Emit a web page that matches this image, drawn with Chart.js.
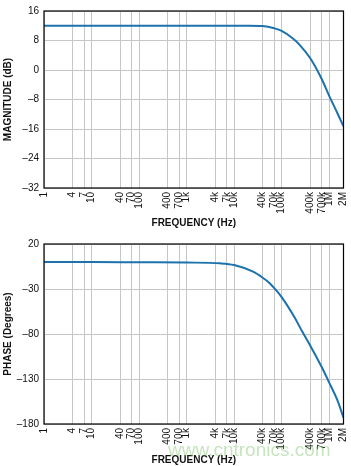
<!DOCTYPE html>
<html>
<head>
<meta charset="utf-8">
<script src="https://cdn.jsdelivr.net/npm/chart.js@4"></script>
<style>
  body { margin: 0; background: #fff; }
  #wrap { position: relative; width: 351px; height: 466px; }
  canvas { position: absolute; left: 0; }
  #mark { position: absolute; left: 168px; top: 439px; font: 19px "Liberation Sans", Arial, sans-serif;
          color: rgba(120, 190, 100, 0.42); pointer-events: none; white-space: nowrap; }
</style>
</head>
<body>
<div id="wrap">
  <canvas id="magChart" width="351" height="233" style="top:0"></canvas>
  <canvas id="phaseChart" width="351" height="233" style="top:233px"></canvas>
  <div id="mark">www.cntronics.com</div>
</div>
<script>
// x axis ticks (log)
const xTickValues = [1, 4, 7, 10, 40, 70, 100, 400, 700, 1e3, 4e3, 7e3, 1e4, 4e4, 7e4, 1e5, 4e5, 7e5, 1e6, 2e6];
const xTickLabels = ['1', '4', '7', '10', '40', '70', '100', '400', '700', '1k', '4k', '7k', '10k', '40k', '70k', '100k', '400k', '700k', '1M', '2M'];

// magnitude response
const magFreq = [1, 10, 100, 1000, 10000, 20000, 40000, 70000, 100000, 170000, 236000, 400000, 700000, 1000000, 1500000, 2000000];
const magDb   = [12, 12, 12, 12, 12, 12, 11.9, 11.3, 10.6, 8.6, 6.9, 3.2, -2.5, -7.0, -11.8, -15.3];

// phase response
const phaseFreq = [1, 10, 100, 1000, 5000, 10000, 25000, 40000, 56000, 70000, 100000, 189000, 269000, 400000, 700000, 1000000, 1500000, 2000000];
const phaseDeg  = [0, 0, -0.3, -0.6, -1.5, -3.4, -10.8, -17.5, -23.5, -29, -39, -62, -77, -93, -117, -134, -154, -173];

const FONT = '"Liberation Sans", Arial, sans-serif';
const LINE_COLOR = '#1b72ad';
const GRID_COLOR = '#c6c6c6';

const boxPlugin = {
    id: 'box',
    afterDraw(chart) {
        const a = chart.chartArea, ctx = chart.ctx;
        ctx.save();
        ctx.strokeStyle = '#000';
        ctx.lineWidth = 1.2;
        ctx.strokeRect(a.left, a.top, a.right - a.left, a.bottom - a.top);
        ctx.restore();
    }
};

function makeChart(id, xs, ys, yMin, yMax, yStep, yTitle, topPad, titlePad) {
    const pts = xs.map((x, i) => ({ x: x, y: ys[i] }));
    return new Chart(document.getElementById(id), {
        type: 'line',
        data: {
            datasets: [{
                data: pts,
                borderColor: LINE_COLOR,
                borderWidth: 2,
                pointRadius: 0,
                cubicInterpolationMode: 'monotone',
                fill: false
            }]
        },
        options: {
            responsive: false,
            animation: false,
            layout: { padding: { top: topPad, right: 7.5, left: 0, bottom: 0 } },
            plugins: { legend: { display: false }, tooltip: { enabled: false } },
            scales: {
                x: {
                    type: 'logarithmic',
                    min: 1, max: 2e6,
                    afterBuildTicks: axis => { axis.ticks = xTickValues.map(v => ({ value: v })); },
                    afterFit: s => { s.height = 233 - topPad - 180; s.paddingLeft = 0; s.paddingRight = 0; },
                    grid: { color: GRID_COLOR, drawTicks: false },
                    border: { display: false },
                    ticks: {
                        autoSkip: false, minRotation: 90, maxRotation: 90, padding: 4,
                        color: '#111', font: { family: FONT, size: 10 },
                        callback: (v, i) => xTickLabels[i]
                    },
                    title: {
                        display: true, text: 'FREQUENCY (Hz)', color: '#111',
                        font: { family: FONT, size: 10, weight: 'bold' },
                        padding: { top: 0, bottom: titlePad }
                    }
                },
                y: {
                    min: yMin, max: yMax,
                    afterFit: s => { s.width = 44; },
                    grid: { color: GRID_COLOR, drawTicks: false },
                    border: { display: false },
                    ticks: {
                        stepSize: yStep, padding: 5, color: '#111',
                        font: { family: FONT, size: 10 },
                        callback: v => String(v).replace('-', '\u2013')
                    },
                    title: {
                        display: true, text: yTitle, color: '#111',
                        font: { family: FONT, size: 10, weight: 'bold' },
                        padding: { top: 2, bottom: 0 }
                    }
                }
            }
        },
        plugins: [boxPlugin]
    });
}

makeChart('magChart', magFreq, magDb, -32, 16, 8, 'MAGNITUDE (dB)', 8, 4);
makeChart('phaseChart', phaseFreq, phaseDeg, -180, 20, 50, 'PHASE (Degrees)', 11, 0);
</script>
</body>
</html>
